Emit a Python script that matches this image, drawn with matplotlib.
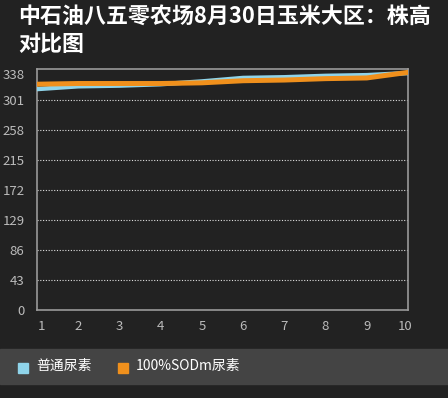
import matplotlib
matplotlib.use("Agg")
import matplotlib.pyplot as plt
from matplotlib.patches import Rectangle
from matplotlib.transforms import ScaledTranslation

plt.rcParams["font.family"] = ["Noto Sans CJK SC", "DejaVu Sans"]

BG = "#222222"
TITLE_1 = "中石油八五零农场8月30日玉米大区：株高"
TITLE_2 = "对比图"

days = [1, 2, 3, 4, 5, 6, 7, 8, 9, 10]
series_names = ["普通尿素", "100%SODm尿素"]
normal_urea = [317, 321, 322, 324, 328, 333, 334, 336, 337, 340]
sodm_urea = [324, 325, 325, 325, 326, 329, 330, 332, 333, 341]
colors = ["#8fd4ea", "#f0901c"]

y_ticks = [0, 43, 86, 129, 172, 215, 258, 301, 338]
grid_vals = [43, 86, 129, 172, 215, 258, 301]

fig = plt.figure(figsize=(4.48, 3.98), dpi=100, facecolor=BG)
ax = fig.add_axes([37 / 448, 88 / 398, 371 / 448, 240.7 / 398])
ax.set_facecolor(BG)

for v in grid_vals:
    ax.axhline(v, color="#e0e0e0", lw=0.8, ls=(0, (1, 1.5)), zorder=1)

ax.plot(days, normal_urea, color=colors[0], lw=3.2, zorder=3,
        solid_joinstyle="round")
ax.plot(days, sodm_urea, color=colors[1], lw=3.6, zorder=4,
        solid_joinstyle="round")

ax.set_xlim(1, 10)
ax.set_ylim(0, 345.4)
ax.set_yticks(y_ticks)
ax.set_xticks(days)
ax.tick_params(length=0, colors="#bbbbbb", labelsize=9.5)
ax.tick_params(axis="y", pad=9)
ax.tick_params(axis="x", pad=7)
for s in ax.spines.values():
    s.set_color("#9a9a9a")
    s.set_linewidth(1.2)

# first and last x labels sit a little inside the frame
xlabels = ax.get_xticklabels()
xlabels[0].set_transform(xlabels[0].get_transform()
                         + ScaledTranslation(0.04, 0, fig.dpi_scale_trans))
xlabels[-1].set_transform(xlabels[-1].get_transform()
                          + ScaledTranslation(-0.03, 0, fig.dpi_scale_trans))

fig.text(18 / 448, 1 - 17 / 398, TITLE_1, color="white", fontsize=15.8,
         fontweight="bold", va="center", ha="left")
fig.text(18 / 448, 1 - 44 / 398, TITLE_2, color="white", fontsize=15.8,
         fontweight="bold", va="center", ha="left")

# legend band
fig.patches.append(Rectangle((0, 1 - 384 / 398), 1, 35 / 398,
                             transform=fig.transFigure, color="#444444",
                             zorder=0))
legend_x = [18, 118]
for name, c, x0 in zip(series_names, colors, legend_x):
    fig.patches.append(Rectangle((x0 / 448, 1 - 373 / 398), 10 / 448,
                                 10 / 398, transform=fig.transFigure,
                                 color=c, zorder=1))
    fig.text((x0 + 18) / 448, 1 - 366 / 398, name, color="white",
             fontsize=10, va="center", ha="left")

fig.savefig("out.png", dpi=100, facecolor=BG)
